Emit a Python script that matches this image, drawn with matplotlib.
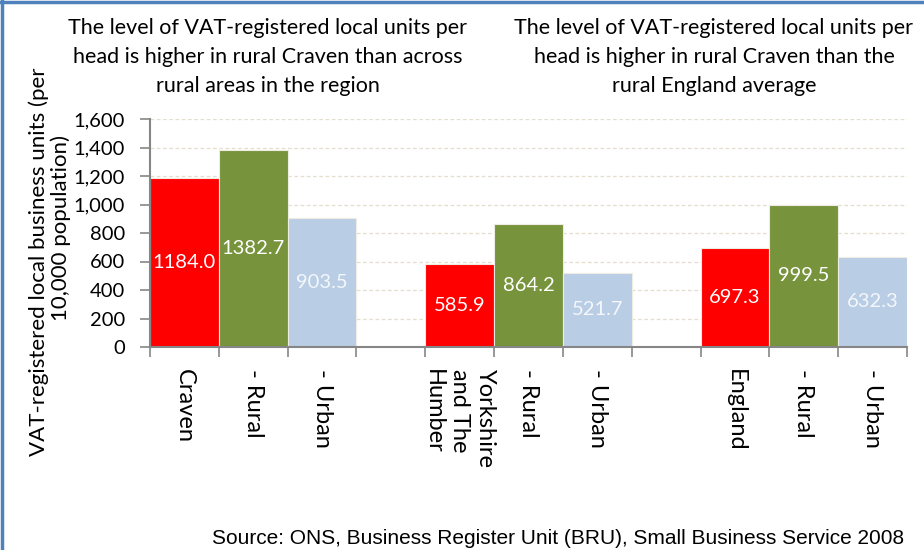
import matplotlib
matplotlib.use("Agg")
import matplotlib.pyplot as plt
from matplotlib.lines import Line2D
import numpy as np

plt.rcParams["font.family"] = ["Lato", "DejaVu Sans"]

categories = ["Craven", "- Rural", "- Urban", "",
              "Yorkshire\nand The\nHumber", "- Rural", "- Urban", "",
              "England", "- Rural", "- Urban"]
values = [1184.0, 1382.7, 903.5, 0,
          585.9, 864.2, 521.7, 0,
          697.3, 999.5, 632.3]
labels = ["1184.0", "1382.7", "903.5", "",
          "585.9", "864.2", "521.7", "",
          "697.3", "999.5", "632.3"]
kinds = ["area", "rural", "urban", "gap"] * 2 + ["area", "rural", "urban"]
yticks = [0, 200, 400, 600, 800, 1000, 1200, 1400, 1600]

colours = {"area": "#ff0000", "rural": "#77933c", "urban": "#b9cde5", "gap": "none"}
edges = {"area": "#efece3", "rural": "#efece3", "urban": "#efece3", "gap": "none"}
text_colours = {"area": "white", "rural": "white", "urban": "#f4f7fb", "gap": "white"}

W, H = 924, 550
fig = plt.figure(figsize=(W / 100, H / 100), dpi=100)
ax = fig.add_axes([150 / W, 1 - 347 / H, (907 - 150) / W, (347 - 119) / H])

x = np.arange(len(categories))
ax.bar(x, values, width=1.0, color=[colours[k] for k in kinds],
       edgecolor=[edges[k] for k in kinds], linewidth=0.8, zorder=3)

for xi, v, lab, k in zip(x, values, labels, kinds):
    if lab:
        ax.text(xi, v / 2, lab, ha="center", va="center", fontsize=14.5,
                color=text_colours[k], zorder=4)

ax.set_xlim(-0.5, len(categories) - 0.5)
ax.set_ylim(0, 1600)
ax.set_yticks(yticks)
ax.set_yticklabels([f"{t:,}" for t in yticks], fontsize=14.5)
ax.yaxis.grid(True, color="#e3dfcf", linestyle=(0, (3, 2)), linewidth=0.9, zorder=0)
ax.set_axisbelow(True)

# category boundaries carry the tick marks
ax.set_xticks(np.arange(-0.5, len(categories), 1.0))
ax.set_xticklabels([])
ax.tick_params(axis="x", length=7, width=1.2, color="#868686", direction="out")
ax.tick_params(axis="y", length=7, width=1.2, color="#868686", direction="out", pad=11)
for xi, c in zip(x, categories):
    ax.text(xi, -0.095, c, transform=ax.get_xaxis_transform(), rotation=270,
            ha="center", va="top", fontsize=17, linespacing=1.3, multialignment="left")

for s in ["top", "right"]:
    ax.spines[s].set_visible(False)
for s in ["left", "bottom"]:
    ax.spines[s].set_color("#868686")
    ax.spines[s].set_linewidth(1.5)
    ax.spines[s].set_zorder(5)

# y axis title, two lines as in the original
fig.text(39 / W, 1 - 262 / H, "VAT-registered local business units (per", rotation=90,
         ha="center", va="center", fontsize=16)
fig.text(61 / W, 1 - 228 / H, "10,000 population)", rotation=90,
         ha="center", va="center", fontsize=16)

fig.text(268 / W, 1 - 57 / H,
         "The level of VAT-registered local units per\nhead is higher in rural Craven than across\nrural areas in the region",
         ha="center", va="center", fontsize=15.5, linespacing=1.55)
fig.text(714 / W, 1 - 57 / H,
         "The level of VAT-registered local units per\nhead is higher in rural Craven than the\nrural England average",
         ha="center", va="center", fontsize=15.5, linespacing=1.55)

fig.text(212 / W, 1 - 548 / H,
         "Source: ONS, Business Register Unit (BRU), Small Business Service 2008",
         ha="left", va="bottom", fontsize=15, family="Liberation Sans")

# frame edges
fig.add_artist(Line2D([1.5 / W, 1.5 / W], [0, 1], color="#4f81bd", linewidth=2.5))
fig.add_artist(Line2D([0, 1], [1 - 1.5 / H, 1 - 1.5 / H], color="#4f81bd", linewidth=2.5))

fig.savefig("out.png", dpi=100)
